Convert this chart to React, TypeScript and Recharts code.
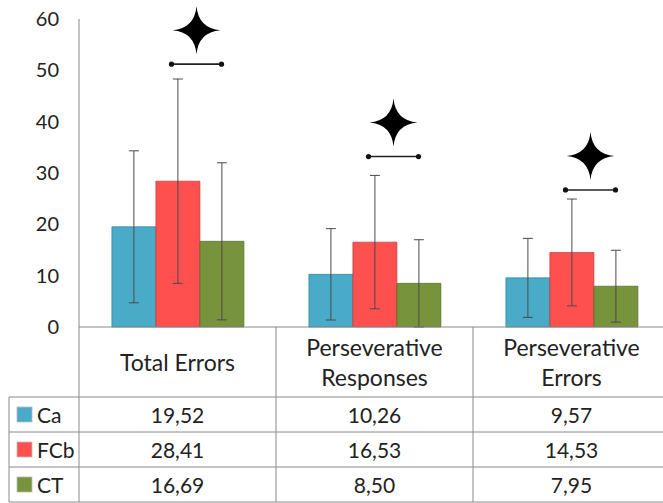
import React from 'react';
import {
  ComposedChart,
  Bar,
  Scatter,
  ErrorBar,
  XAxis,
  YAxis,
  Customized,
} from 'recharts';

// group means, standard deviations and significance bracket levels
const categories = ['Total Errors', 'Perseverative Responses', 'Perseverative Errors'];
const categoryLines = [['Total Errors'], ['Perseverative', 'Responses'], ['Perseverative', 'Errors']];
const caMeans = [19.52, 10.26, 9.57];
const fcbMeans = [28.41, 16.53, 14.53];
const ctMeans = [16.69, 8.5, 7.95];
const caSD = [14.8, 8.9, 7.7];
const fcbSD = [19.9, 13.0, 10.4];
const ctSD = [15.3, 8.5, 7.0];
const sigLevel = [51.2, 33.2, 26.7];
const yTicks = [0, 10, 20, 30, 40, 50, 60];

const series = [
  { key: 'Ca', color: '#4aabc8', edge: '#2f7f99', means: caMeans },
  { key: 'FCb', color: '#ff5050', edge: '#b83a3a', means: fcbMeans },
  { key: 'CT', color: '#77933c', edge: '#55692a', means: ctMeans },
];

const data = categories.map((name, i) => ({
  name,
  Ca: caMeans[i],
  FCb: fcbMeans[i],
  CT: ctMeans[i],
  CaErr: caSD[i],
  FCbErr: fcbSD[i],
  CTErr: ctSD[i],
  sig: sigLevel[i],
}));

const W = 670;
const H = 503;
const TOP = 19;
const LEFT = 79;
const PLOT_BOTTOM = 327;
const COL_W = (W - LEFT) / 3;
const ROW_TOP = 397;
const ROW_H = 35;
const GRID = '#8a8a8a';
const FONT = 'Lato, "Open Sans", sans-serif';
const TEXT = '#222';

const fmt = (v: number) => v.toFixed(2).replace('.', ',');

function CategoryTick(props: any) {
  const { x, index } = props;
  const lines = categoryLines[index] || [];
  const startY = lines.length === 1 ? 362 : 347;
  return (
    <g>
      {lines.map((t, k) => (
        <text
          key={k}
          x={x}
          y={startY + k * 30}
          textAnchor="middle"
          dominantBaseline="central"
          fontSize={23}
          fontFamily={FONT}
          fill={TEXT}
        >
          {t}
        </text>
      ))}
    </g>
  );
}

// 4-point star over a short bracket with round ends
function SigMarker(props: any) {
  const { cx, cy } = props;
  if (cx == null || cy == null) return null;
  const x1 = cx - 6;
  const x2 = cx + 44;
  const sx = cx + 19;
  const sy = cy - 34;
  const r = 24;
  const c = 2;
  const star = `M${sx},${sy - r} Q${sx + c},${sy - c} ${sx + r},${sy} Q${sx + c},${sy + c} ${sx},${sy + r} Q${sx - c},${sy + c} ${sx - r},${sy} Q${sx - c},${sy - c} ${sx},${sy - r} Z`;
  return (
    <g>
      <line x1={x1} y1={cy} x2={x2} y2={cy} stroke="#222" strokeWidth={1.6} />
      <circle cx={x1} cy={cy} r={2.6} fill="#111" />
      <circle cx={x2} cy={cy} r={2.6} fill="#111" />
      <path d={star} fill="#000" />
    </g>
  );
}

function DataTable() {
  const bottom = ROW_TOP + ROW_H * 3;
  return (
    <g>
      {/* vertical dividers */}
      <line x1={LEFT} y1={PLOT_BOTTOM} x2={LEFT} y2={bottom} stroke={GRID} />
      {[1, 2].map((k) => (
        <line
          key={k}
          x1={LEFT + COL_W * k}
          y1={PLOT_BOTTOM}
          x2={LEFT + COL_W * k}
          y2={bottom}
          stroke={GRID}
        />
      ))}
      <line x1={9} y1={ROW_TOP} x2={9} y2={bottom} stroke={GRID} />
      {/* horizontal rules */}
      {[0, 1, 2, 3].map((k) => (
        <line
          key={k}
          x1={9}
          y1={ROW_TOP + ROW_H * k}
          x2={W}
          y2={ROW_TOP + ROW_H * k}
          stroke={GRID}
        />
      ))}
      {series.map((s, r) => {
        const cy = ROW_TOP + ROW_H * r + ROW_H / 2;
        return (
          <g key={s.key}>
            <rect x={17} y={cy - 7.5} width={15} height={15} fill={s.color} stroke="#bbb" strokeWidth={0.8} />
            <text x={37} y={cy} dominantBaseline="central" fontSize={21} fontFamily={FONT} fill={TEXT}>
              {s.key}
            </text>
            {s.means.map((v, i) => (
              <text
                key={i}
                x={LEFT + COL_W * (i + 0.5)}
                y={cy}
                textAnchor="middle"
                dominantBaseline="central"
                fontSize={21}
                fontFamily={FONT}
                fill={TEXT}
              >
                {fmt(v)}
              </text>
            ))}
          </g>
        );
      })}
    </g>
  );
}

export default function App() {
  return (
    <div
      style={{
        position: 'absolute',
        left: 0,
        top: 0,
        width: 663,
        height: 503,
        overflow: 'hidden',
        background: '#fff',
      }}
    >
      <ComposedChart
        width={W}
        height={H}
        data={data}
        margin={{ top: TOP, right: 0, bottom: 0, left: 0 }}
        barCategoryGap="16.7%"
        barGap={0}
      >
        <XAxis
          dataKey="name"
          height={H - PLOT_BOTTOM}
          axisLine={{ stroke: GRID }}
          tickLine={false}
          tick={<CategoryTick />}
          interval={0}
        />
        <YAxis
          width={LEFT}
          domain={[0, 60]}
          ticks={yTicks}
          interval={0}
          axisLine={{ stroke: GRID }}
          tickLine={false}
          tickSize={0}
          tickMargin={20}
          tick={{ fill: TEXT, fontSize: 20, fontFamily: FONT }}
        />
        {series.map((s) => (
          <Bar
            key={s.key}
            dataKey={s.key}
            fill={s.color}
            stroke={s.edge}
            strokeWidth={0.7}
            isAnimationActive={false}
          >
            <ErrorBar dataKey={`${s.key}Err`} width={5} stroke="#4a4a4a" strokeWidth={1} />
          </Bar>
        ))}
        <Scatter dataKey="sig" shape={<SigMarker />} isAnimationActive={false} />
        <Customized component={<DataTable />} />
      </ComposedChart>
    </div>
  );
}
